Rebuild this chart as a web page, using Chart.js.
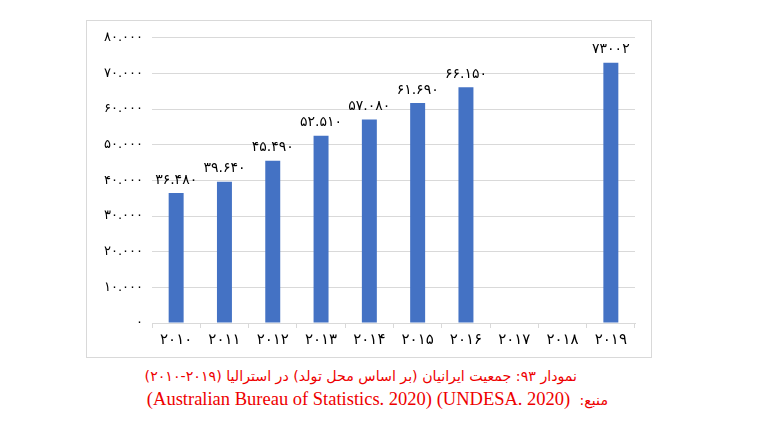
<!DOCTYPE html>
<html>
<head>
<meta charset="utf-8">
<script src="https://cdn.jsdelivr.net/npm/chart.js@4"></script>
<style>
  html, body { margin:0; padding:0; background:#fff; width:770px; height:440px; overflow:hidden; }
  #frame { position:absolute; left:86px; top:20px; width:564px; height:336px; border:1px solid #d9d9d9; }
  #frame canvas { position:absolute; left:0; top:0; }
  .cap { position:absolute; color:#ee0000; font-family:"Liberation Serif","DejaVu Sans",serif; font-size:18.5px; white-space:nowrap; line-height:22px; }
  .fa { font-family:"DejaVu Sans",sans-serif; font-size:14.2px; }
</style>
</head>
<body>
<div id="frame"><canvas id="c" width="564" height="336"></canvas></div>
<div class="cap" id="cap1" dir="rtl" style="right:193px; top:364px;"><span class="fa">نمودار ۹۳: جمعیت ایرانیان (بر اساس محل تولد) در استرالیا (۲۰۱۹-۲۰۱۰)</span></div>
<div class="cap" id="cap2" dir="rtl" style="right:162px; top:388px;"><span class="fa">منبع:</span>&nbsp; <bdi dir="ltr">(UNDESA. 2020)</bdi> <bdi dir="ltr">(Australian Bureau of Statistics. 2020)</bdi></div>
<script>
const categories = ['۲۰۱۰','۲۰۱۱','۲۰۱۲','۲۰۱۳','۲۰۱۴','۲۰۱۵','۲۰۱۶','۲۰۱۷','۲۰۱۸','۲۰۱۹'];
const population = [36480, 39640, 45490, 52510, 57080, 61690, 66150, null, null, 73002];
const dataLabels = ['۳۶.۴۸۰','۳۹.۶۴۰','۴۵.۴۹۰','۵۲.۵۱۰','۵۷.۰۸۰','۶۱.۶۹۰','۶۶.۱۵۰','','','۷۳۰۰۲'];
const yTickLabels = ['۰','۱۰.۰۰۰','۲۰.۰۰۰','۳۰.۰۰۰','۴۰.۰۰۰','۵۰.۰۰۰','۶۰.۰۰۰','۷۰.۰۰۰','۸۰.۰۰۰'];

const labelPlugin = {
  id: 'barLabels',
  afterDatasetsDraw(chart) {
    const ctx = chart.ctx;
    const meta = chart.getDatasetMeta(0);
    ctx.save();
    ctx.font = '14px "DejaVu Sans"';
    ctx.fillStyle = '#000';
    ctx.textAlign = 'center';
    ctx.textBaseline = 'bottom';
    meta.data.forEach((el, i) => {
      if (population[i] == null) return;
      ctx.fillText(dataLabels[i], el.x, el.y - 6);
    });
    ctx.restore();
  }
};

new Chart(document.getElementById('c'), {
  type: 'bar',
  data: {
    labels: categories,
    datasets: [{
      data: population,
      backgroundColor: '#4472C4',
      borderWidth: 0,
      categoryPercentage: 1,
      barPercentage: 0.31
    }]
  },
  options: {
    responsive: false,
    animation: false,
    devicePixelRatio: 1,
    layout: { padding: { left: 0, right: 16, top: 16, bottom: 0 } },
    plugins: { legend: { display: false }, tooltip: { enabled: false } },
    scales: {
      x: {
        grid: { offset: true, drawOnChartArea: false, drawTicks: true, tickLength: 5, color: '#d9d9d9' },
        border: { display: true, color: '#d9d9d9' },
        ticks: { color: '#000', font: { family: 'DejaVu Sans', size: 15 }, padding: 3, maxRotation: 0, autoSkip: false },
        afterFit(s) { s.height = 34; }
      },
      y: {
        min: 0, max: 80000,
        grid: { color: '#d9d9d9', drawTicks: false },
        border: { display: false },
        ticks: {
          stepSize: 10000, color: '#000', padding: 9,
          font: { family: 'DejaVu Sans', size: 13 },
          callback: (v) => yTickLabels[Math.round(v / 10000)]
        },
        afterFit(s) { s.width = 65; }
      }
    }
  },
  plugins: [labelPlugin]
});
</script>
</body>
</html>
